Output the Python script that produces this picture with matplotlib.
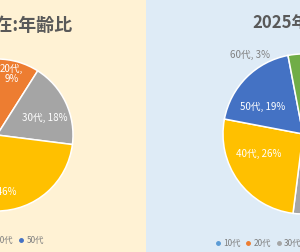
import matplotlib
matplotlib.use("Agg")
import matplotlib.pyplot as plt
from matplotlib.patches import Rectangle
from matplotlib.lines import Line2D
import numpy as np

plt.rcParams['font.family'] = ['Noto Sans CJK JP', 'DejaVu Sans']

# data
ages = ["10代", "20代", "30代", "40代", "50代", "60代"]
colors = ["#5B9BD5", "#ED7D31", "#A5A5A5", "#FFC000", "#4472C4", "#70AD47"]

now_ages = ages[:5]
now_share = [0, 9, 18, 46, 27]
goal_share = [12, 15, 25, 26, 19, 3]

left_title = "2024年現在:年齢比"
right_title = "2025年:年齢比"

W, H = 300, 252
fig = plt.figure(figsize=(W / 100, H / 100), dpi=100)
fig.patch.set_facecolor("white")

# panel backgrounds
fig.add_artist(Rectangle((0, 0), 146 / W, 1, transform=fig.transFigure,
                         facecolor="#FFF2D4", edgecolor="none", zorder=0))
fig.add_artist(Rectangle((146 / W, 0), 1 - 146 / W, 1, transform=fig.transFigure,
                         facecolor="#DEEBF6", edgecolor="none", zorder=0))


def pie_axes(cx, cy, r):
    # pixel centre / radius -> figure axes box
    ax = fig.add_axes([(cx - r) / W, 1 - (cy + r) / H, 2 * r / W, 2 * r / H])
    ax.patch.set_alpha(0)
    return ax


def draw_pie(ax, values, cols, labels, label_pos, two_line=()):
    wedges, _ = ax.pie(values, colors=cols, startangle=90, counterclock=False,
                       wedgeprops=dict(edgecolor="white", linewidth=1.1))
    for w, lab, v, (f, d, tc) in zip(wedges, labels, values, label_pos):
        if v == 0:
            continue
        ang = np.deg2rad(w.theta1 + f * (w.theta2 - w.theta1))
        sep = ",\n" if lab in two_line else ", "
        ax.text(d * np.cos(ang), d * np.sin(ang), f"{lab}{sep}{v}%",
                ha="center", va="center", fontsize=7, color=tc,
                linespacing=1.0)
    ax.set_xlim(-1, 1)
    ax.set_ylim(-1, 1)
    ax.set_aspect("equal")
    ax.axis("off")


# left pie: now
axl = pie_axes(-3, 135, 76)
draw_pie(axl, now_share, colors[:5], now_ages,
         [(0.5, 0.7, "white"), (0.58, 0.83, "white"), (0.41, 0.66, "white"),
          (0.48, 0.75, "white"), (0.5, 0.65, "white")],
         two_line=("20代",))

# right pie: 2025
axr = pie_axes(303, 134, 80)
draw_pie(axr, goal_share, colors, ages,
         [(0.3, 0.75, "white"), (0.5, 0.7, "white"), (0.5, 0.7, "white"),
          (0.37, 0.61, "white"), (0.66, 0.61, "white"), (3.1, 1.19, "#808080")])

# titles
fig.text(73 / W, 1 - 25 / H, left_title, ha="right", va="center",
         fontsize=13, fontweight="bold", color="#595959")
fig.text(252 / W, 1 - 23 / H, right_title, ha="left", va="center",
         fontsize=12, fontweight="bold", color="#595959")


# legends
def legend(labels, cols, cx, cy):
    handles = [Line2D([], [], marker="o", linestyle="", color=c, markersize=2.5)
               for c in cols]
    fig.legend(handles, labels, loc="center", bbox_to_anchor=(cx / W, 1 - cy / H),
               ncol=len(labels), frameon=False, fontsize=6, labelcolor="#7F7F7F",
               handlelength=0.7, handletextpad=0.3, columnspacing=0.55,
               borderaxespad=0, borderpad=0)


legend(now_ages, colors[:5], -30, 240)
legend(ages, colors, 304, 243)

fig.savefig("out.png", dpi=100)
